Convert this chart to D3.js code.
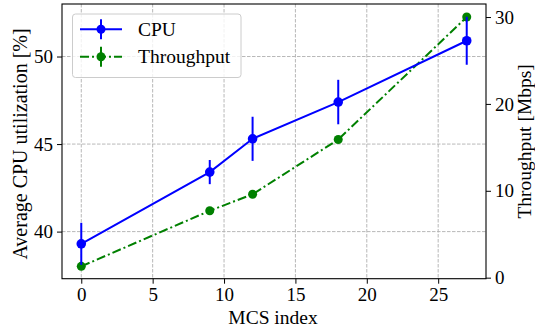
<!DOCTYPE html>
<html>
<head>
<meta charset="utf-8">
<script src="https://cdn.jsdelivr.net/npm/d3@7"></script>
<style>
  body { margin: 0; background: #fff; }
</style>
</head>
<body>
<div id="chart"></div>
<script>
const mcs = [0, 9, 12, 18, 27];
const cpu = [39.3, 43.4, 45.3, 47.4, 50.9];
const cpuErr = [1.2, 0.69, 1.26, 1.27, 1.37];
const throughput = [1.3, 7.7, 9.6, 15.9, 30.0];
const xTicks = [0, 5, 10, 15, 20, 25];
const cpuTicks = [40, 45, 50];
const tputTicks = [0, 10, 20, 30];

const width = 535, height = 332;
const plotL = 62, plotR = 486, plotT = 4, plotB = 278.7;
const FONT = '"Liberation Serif", "Times New Roman", Times, "DejaVu Serif", serif';

const svg = d3.select('#chart').append('svg')
  .attr('width', width)
  .attr('height', height)
  .style('font-family', FONT);

const x = d3.scaleLinear().domain([-1.35, 28.35]).range([plotL, plotR]);
const yCpu = d3.scaleLinear().domain([37.31, 53.0]).range([plotB, plotT]);
const yTput = d3.scaleLinear().domain([-0.12, 31.5]).range([plotB, plotT]);

// grid
const grid = svg.append('g').attr('stroke', '#b0b0b0').attr('stroke-width', 0.9)
  .attr('stroke-dasharray', '3.5,1.5');
grid.selectAll('.gx').data(xTicks).enter().append('line')
  .attr('x1', d => x(d)).attr('x2', d => x(d)).attr('y1', plotT).attr('y2', plotB);
grid.selectAll('.gy').data(cpuTicks).enter().append('line')
  .attr('x1', plotL).attr('x2', plotR).attr('y1', d => yCpu(d)).attr('y2', d => yCpu(d));

// axes
function styleAxis(g) {
  g.attr('font-family', null).attr('font-size', 19);
  g.select('.domain').remove();
  g.selectAll('.tick line').attr('stroke', '#000').attr('stroke-width', 1);
  g.selectAll('.tick text').attr('fill', '#000').style('font-family', FONT);
}
svg.append('g').attr('transform', `translate(0,${plotB})`)
  .call(d3.axisBottom(x).tickValues(xTicks).tickSize(5).tickPadding(4))
  .call(styleAxis);
svg.append('g').attr('transform', `translate(${plotL},0)`)
  .call(d3.axisLeft(yCpu).tickValues(cpuTicks).tickSize(5).tickPadding(4))
  .call(styleAxis);
svg.append('g').attr('transform', `translate(${plotR},0)`)
  .call(d3.axisRight(yTput).tickValues(tputTicks).tickSize(5).tickPadding(4))
  .call(styleAxis);

svg.append('rect').attr('x', plotL).attr('y', plotT)
  .attr('width', plotR - plotL).attr('height', plotB - plotT)
  .attr('fill', 'none').attr('stroke', '#000').attr('stroke-width', 1.1);

// throughput series
const tputLine = d3.line().x((d, i) => x(mcs[i])).y(d => yTput(d));
svg.append('path').datum(throughput)
  .attr('d', tputLine).attr('fill', 'none')
  .attr('stroke', '#008000').attr('stroke-width', 2)
  .attr('stroke-dasharray', '9,3,2,3');
svg.selectAll('.tp').data(throughput).enter().append('circle')
  .attr('cx', (d, i) => x(mcs[i])).attr('cy', d => yTput(d))
  .attr('r', 4.5).attr('fill', '#008000');

// cpu series
const cpuLine = d3.line().x((d, i) => x(mcs[i])).y(d => yCpu(d));
svg.append('path').datum(cpu)
  .attr('d', cpuLine).attr('fill', 'none')
  .attr('stroke', '#0000ff').attr('stroke-width', 2);
svg.selectAll('.err').data(cpu).enter().append('line')
  .attr('x1', (d, i) => x(mcs[i])).attr('x2', (d, i) => x(mcs[i]))
  .attr('y1', (d, i) => yCpu(d - cpuErr[i])).attr('y2', (d, i) => yCpu(d + cpuErr[i]))
  .attr('stroke', '#0000ff').attr('stroke-width', 2);
svg.selectAll('.cp').data(cpu).enter().append('circle')
  .attr('cx', (d, i) => x(mcs[i])).attr('cy', d => yCpu(d))
  .attr('r', 4.8).attr('fill', '#0000ff');

// labels
svg.append('text').attr('x', 273).attr('y', 324)
  .attr('text-anchor', 'middle').attr('font-size', 19.5).text('MCS index');
svg.append('text').attr('transform', `translate(27,144) rotate(-90)`)
  .attr('text-anchor', 'middle').attr('font-size', 20).text('Average CPU utilization [%]');
svg.append('text').attr('transform', `translate(531,${(plotT + plotB) / 2}) rotate(-90)`)
  .attr('text-anchor', 'middle').attr('font-size', 19.5).text('Throughput [Mbps]');

// legend
const lg = svg.append('g');
lg.append('rect').attr('x', 72.5).attr('y', 14).attr('width', 168.5).attr('height', 63.5)
  .attr('rx', 3).attr('fill', 'rgba(255,255,255,0.8)').attr('stroke', '#cccccc');
const legendItems = [
  { name: 'CPU', color: '#0000ff', dash: null, y: 29.3 },
  { name: 'Throughput', color: '#008000', dash: '9,3,2,3', y: 56.7 }
];
legendItems.forEach(it => {
  lg.append('line').attr('x1', 80).attr('x2', 122).attr('y1', it.y).attr('y2', it.y)
    .attr('stroke', it.color).attr('stroke-width', 2)
    .attr('stroke-dasharray', it.dash);
  lg.append('line').attr('x1', 101).attr('x2', 101).attr('y1', it.y - 10).attr('y2', it.y + 10)
    .attr('stroke', it.color).attr('stroke-width', 2);
  lg.append('circle').attr('cx', 101).attr('cy', it.y).attr('r', 4.5).attr('fill', it.color);
  lg.append('text').attr('x', 138).attr('y', it.y + 6.5).attr('font-size', 19.5).text(it.name);
});
</script>
</body>
</html>
